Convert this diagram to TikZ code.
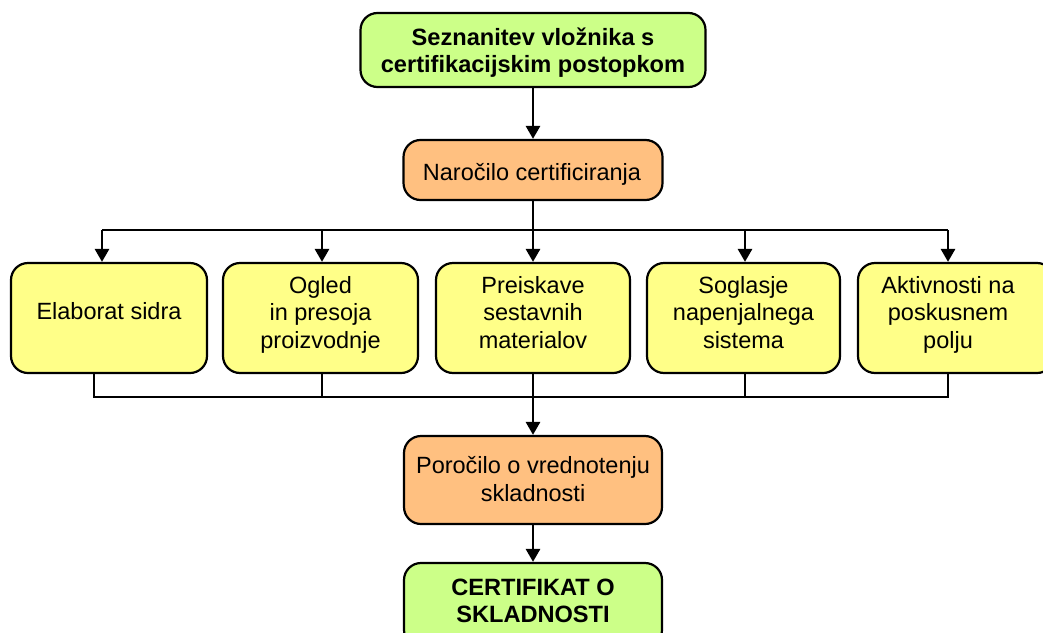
\documentclass[tikz,border=0pt]{standalone}
\usepackage{fontspec}
\setmainfont{Liberation Sans}
\usetikzlibrary{arrows.meta}
\definecolor{cgreen}{RGB}{204,255,136}
\definecolor{corange}{RGB}{255,192,128}
\definecolor{cyellow}{RGB}{255,255,136}
\tikzset{
  box/.style={draw=black, line width=2.2pt, rounded corners=17pt, inner sep=0pt},
  lbl/.style={anchor=base, align=center, inner sep=0pt, font=\fontsize{23.5}{27.5}\selectfont},
  blbl/.style={lbl, font=\fontsize{23.6}{27}\selectfont\bfseries},
  conn/.style={line width=2.8pt},
  arr/.style={conn, -{Triangle[width=14pt,length=13pt]}},
}
\begin{document}
\begin{tikzpicture}[x=1pt, y=-1pt]
\useasboundingbox (0,0) rectangle (1043,632);
\clip (0,0) rectangle (1043,632);
% boxes
\node[box, fill=cgreen, minimum width=345pt, minimum height=74pt] (top) at (533,50) {};
\node[box, fill=corange, minimum width=259pt, minimum height=60pt] (nar) at (533,170) {};
\node[box, fill=cyellow, minimum width=196pt, minimum height=110pt] (b1) at (109,318) {};
\node[box, fill=cyellow, minimum width=195pt, minimum height=110pt] (b2) at (320.5,318) {};
\node[box, fill=cyellow, minimum width=194pt, minimum height=110pt] (b3) at (533,318) {};
\node[box, fill=cyellow, minimum width=193pt, minimum height=110pt] (b4) at (743.5,318) {};
\node[box, fill=cyellow, minimum width=196pt, minimum height=110pt] (b5) at (956,318) {};
\node[box, fill=corange, minimum width=258pt, minimum height=88pt] (por) at (533,480) {};
\node[box, fill=cgreen, minimum width=258pt, minimum height=84pt] (cert) at (533,605) {};
% labels (base anchor = last line baseline)
\node[blbl] (ttop) at (533,72) {Seznanitev vložnika s\\certifikacijskim postopkom};
\node[lbl] (tnar) at (532,180) {Naročilo certificiranja};
\node[lbl] (t1) at (109,319) {Elaborat sidra};
\node[lbl] (t2) at (320.5,348) {Ogled\\in presoja\\proizvodnje};
\node[lbl] (t3) at (533,348) {Preiskave\\sestavnih\\materialov};
\node[lbl] (t4) at (743.5,348) {Soglasje\\napenjalnega\\sistema};
\node[lbl] (t5) at (948,348) {Aktivnosti na\\poskusnem\\polju};
\node[lbl] (tpor) at (533,501) {Poročilo o vrednotenju\\skladnosti};
\node[blbl] (tcert) at (533,622) {CERTIFIKAT O\\SKLADNOSTI};
% junctions
\coordinate (jt) at (533,230);
\coordinate (a1) at (102,230);
\coordinate (a2) at (322,230);
\coordinate (a4) at (745,230);
\coordinate (a5) at (948,230);
\coordinate (c1) at (94,397);
\coordinate (c2) at (322,397);
\coordinate (c4) at (745,397);
\coordinate (c5) at (948,397);
% connectors
\draw[arr] (top.south) -- (nar.north);
\draw[conn] (nar.south) -- (jt);
\draw[conn] (a1) -- (a5);
\draw[arr] (a1) -- (a1 |- b1.north);
\draw[arr] (a2) -- (a2 |- b2.north);
\draw[arr] (jt) -- (b3.north);
\draw[arr] (a4) -- (a4 |- b4.north);
\draw[arr] (a5) -- (a5 |- b5.north);
\draw[conn] (c1 |- b1.south) -- (c1) -- (c5) -- (c5 |- b5.south);
\draw[conn] (c2 |- b2.south) -- (c2);
\draw[conn] (c4 |- b4.south) -- (c4);
\draw[arr] (b3.south) -- (por.north);
\draw[arr] (por.south) -- (cert.north);
\end{tikzpicture}
\end{document}
